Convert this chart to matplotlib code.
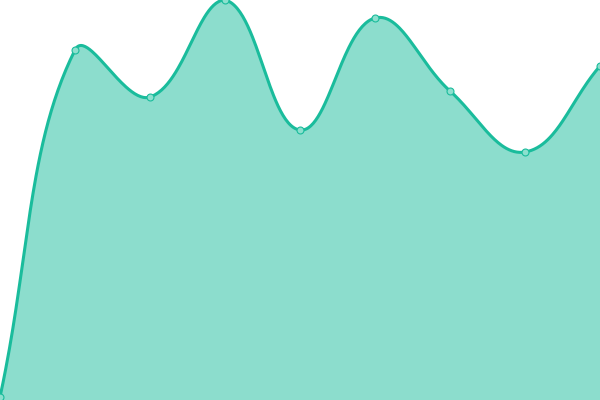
import numpy as np
import matplotlib
matplotlib.use("Agg")
import matplotlib.pyplot as plt

# values (plot area is 600 x 400, y grows upwards)
x_vals = [0, 75, 150, 225, 300, 375, 450, 525, 600]
y_vals = [3, 350, 303, 400, 270, 382, 309, 248, 334]

line_color = "#1abc9c"
tension = 0.4


def spline(xs, ys, t=tension, steps=60):
    pts = np.column_stack([xs, ys]).astype(float)
    n = len(pts)
    cps_prev = pts.copy()
    cps_next = pts.copy()
    for i in range(n):
        prev = pts[i - 1] if i > 0 else pts[i]
        nxt = pts[i + 1] if i < n - 1 else pts[i]
        d01 = np.hypot(*(pts[i] - prev))
        d12 = np.hypot(*(nxt - pts[i]))
        tot = d01 + d12
        fa = t * d01 / tot if tot else 0
        fb = t * d12 / tot if tot else 0
        cps_prev[i] = pts[i] - fa * (nxt - prev)
        cps_next[i] = pts[i] + fb * (nxt - prev)
    # keep control points inside the area
    cps_prev[:, 1] = np.clip(cps_prev[:, 1], 0, 400)
    cps_next[:, 1] = np.clip(cps_next[:, 1], 0, 400)
    u = np.linspace(0, 1, steps)[:, None]
    out = []
    for i in range(n - 1):
        p0, p1, p2, p3 = pts[i], cps_next[i], cps_prev[i + 1], pts[i + 1]
        seg = ((1 - u) ** 3) * p0 + 3 * ((1 - u) ** 2) * u * p1 + 3 * (1 - u) * u ** 2 * p2 + u ** 3 * p3
        out.append(seg if i == 0 else seg[1:])
    out = np.vstack(out)
    return out[:, 0], out[:, 1]


sx, sy = spline(x_vals, y_vals)

fig = plt.figure(figsize=(6, 4), dpi=100)
ax = fig.add_axes([0, 0, 1, 1])
ax.fill_between(sx, sy, 0, color=line_color, alpha=0.5, linewidth=0)
ax.plot(sx, sy, color=line_color, linewidth=2.2, solid_capstyle="round")
ax.plot(x_vals, y_vals, "o", markersize=5, markerfacecolor="#8ce0ce",
        markeredgecolor=line_color, markeredgewidth=0.8)
ax.set_xlim(0, 600)
ax.set_ylim(0, 400)
ax.axis("off")
fig.savefig("out.png", dpi=100)
